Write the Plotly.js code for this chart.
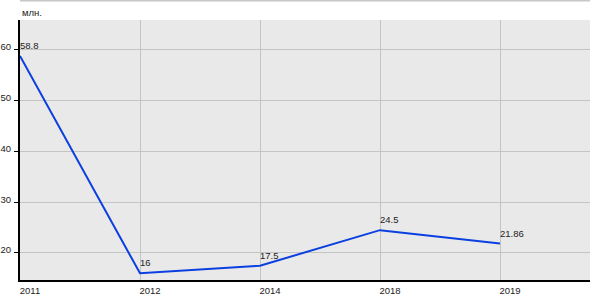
<!DOCTYPE html>
<html>
<head>
<meta charset="utf-8">
<script src="https://cdn.plot.ly/plotly-3.0.1.min.js"></script>
<style>html,body{margin:0;padding:0;background:#fff;}#chart{width:600px;height:300px;}</style>
</head>
<body>
<div id="chart"></div>
<script>
var years = ['2011', '2012', '2014', '2018', '2019'];
var values = [58.8, 16, 17.5, 24.5, 21.86];
var valueLabels = ['58.8', '16', '17.5', '24.5', '21.86'];
var yTicks = [20, 30, 40, 50, 60];
var unitLabel = 'млн.';

var trace = {
  x: years,
  y: values,
  type: 'scatter',
  mode: 'lines',
  line: {color: '#0a3fe0', width: 2},
  hoverinfo: 'none'
};

var labelAnns = years.map(function (yr, i) {
  return {
    x: i, y: values[i], xref: 'x', yref: 'y',
    text: valueLabels[i], showarrow: false,
    xanchor: 'left', yanchor: 'bottom',
    xshift: -2, yshift: 3,
    font: {size: 9.5, color: '#222'}
  };
});

var layout = {
  width: 600, height: 300,
  margin: {l: 20, r: 10, t: 20, b: 20},
  paper_bgcolor: '#ffffff',
  plot_bgcolor: '#e9e9e9',
  showlegend: false,
  font: {family: 'Arial, Liberation Sans, sans-serif', size: 9.5, color: '#222'},
  xaxis: {
    type: 'category',
    range: [0, 4.75],
    showgrid: true, gridcolor: '#c4c4c4', gridwidth: 1,
    showline: true, linecolor: '#000', linewidth: 2,
    ticks: '', ticklabelshift: 10, ticklabelstandoff: 1,
    zeroline: false, fixedrange: true
  },
  yaxis: {
    range: [14.68, 65.9],
    tickvals: yTicks,
    ticktext: yTicks.map(String),
    showgrid: true, gridcolor: '#c4c4c4', gridwidth: 1,
    showline: true, linecolor: '#000', linewidth: 2,
    ticks: 'outside', ticklen: 4, tickcolor: '#000', tickwidth: 1,
    ticklabelshift: -3, ticklabelstandoff: 1,
    zeroline: false, fixedrange: true
  },
  shapes: [{
    type: 'line', xref: 'paper', yref: 'paper',
    x0: 0, x1: 1, y0: 1 + 19.5 / 260, y1: 1 + 19.5 / 260,
    line: {color: '#c8c8c8', width: 2}
  }],
  annotations: [{
    text: unitLabel, xref: 'paper', yref: 'paper',
    x: 0, y: 1 + 8 / 260, xanchor: 'left', yanchor: 'middle',
    showarrow: false, font: {size: 9.5, color: '#222'}
  }].concat(labelAnns)
};

Plotly.newPlot('chart', [trace], layout, {staticPlot: true, displayModeBar: false});
</script>
</body>
</html>
